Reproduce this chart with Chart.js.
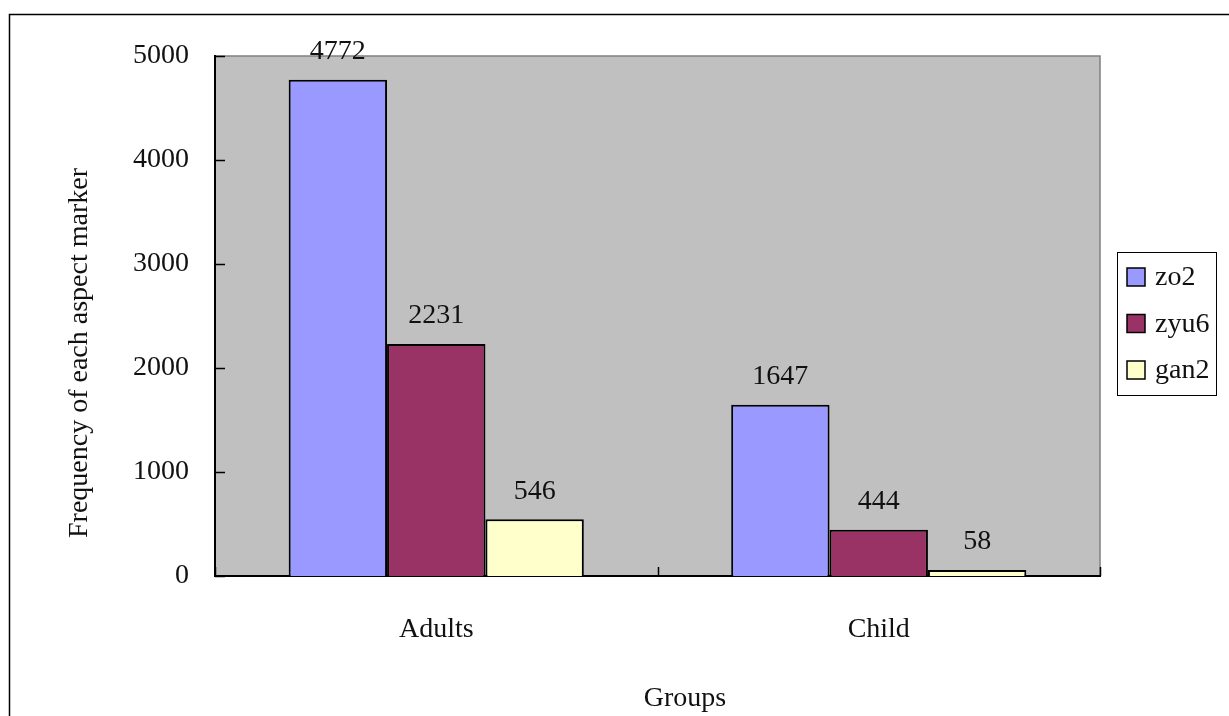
<!DOCTYPE html>
<html>
<head>
<meta charset="utf-8">
<script src="https://cdn.jsdelivr.net/npm/chart.js@4/dist/chart.umd.min.js"></script>
<style>
  html, body { margin: 0; padding: 0; background: #fff; }
  canvas { display: block; }
</style>
</head>
<body>
<canvas id="myChart" width="1229" height="716"></canvas>
<script>
const groups = ['Adults', 'Child'];
const seriesNames = ['zo2', 'zyu6', 'gan2'];
const zo2 = [4772, 1647];
const zyu6 = [2231, 444];
const gan2 = [546, 58];
const yTicks = [0, 1000, 2000, 3000, 4000, 5000];
const colors = ['#9999FF', '#993366', '#FFFFCC'];

const FONT = '"Liberation Serif", "Times New Roman", serif';

window.onload = () => {
    const ctx = document.getElementById('myChart').getContext('2d');

    // frame, plot background, inside ticks, value labels, axis titles, legend
    const decor = {
        id: 'decor',
        beforeDraw(chart) {
            const c = chart.ctx;
            const a = chart.chartArea;
            c.save();
            c.fillStyle = '#fff';
            c.fillRect(0, 0, chart.width, chart.height);
            c.strokeStyle = '#000';
            c.lineWidth = 1.5;
            c.strokeRect(9.5, 14.5, 1400, 1000);
            c.fillStyle = '#C0C0C0';
            c.fillRect(a.left, a.top, a.right - a.left, a.bottom - a.top);
            c.strokeStyle = '#808080';
            c.lineWidth = 1.5;
            c.strokeRect(a.left, a.top, a.right - a.left, a.bottom - a.top);
            c.restore();
        },
        afterDatasetsDraw(chart) {
            const c = chart.ctx;
            const a = chart.chartArea;
            c.save();
            // inward tick marks
            c.strokeStyle = '#000';
            c.lineWidth = 1.5;
            const ys = chart.scales.y;
            yTicks.forEach(v => {
                const py = Math.round(ys.getPixelForValue(v)) + 0.5;
                c.beginPath();
                c.moveTo(a.left, py);
                c.lineTo(a.left + 10, py);
                c.stroke();
            });
            const xs = chart.scales.x;
            for (let i = 0; i <= groups.length; i++) {
                const px = Math.round(xs.getPixelForValue(i - 0.5)) + 0.5;
                c.beginPath();
                c.moveTo(px, a.bottom);
                c.lineTo(px, a.bottom - 9);
                c.stroke();
            }

            c.font = '28px ' + FONT;
            c.fillStyle = '#111';
            c.textAlign = 'center';
            c.textBaseline = 'bottom';
            chart.data.datasets.forEach((ds, i) => {
                chart.getDatasetMeta(i).data.forEach((bar, j) => {
                    c.fillText(ds.data[j], bar.x, bar.y - 14);
                });
            });
            c.restore();
        },
        afterDraw(chart) {
            const c = chart.ctx;
            c.save();
            c.font = '28px ' + FONT;
            c.fillStyle = '#111';
            c.textAlign = 'center';
            c.textBaseline = 'middle';
            // y title
            c.translate(80, 353);
            c.rotate(-Math.PI / 2);
            c.fillText('Frequency of each aspect marker', 0, 0);
            c.restore();

            c.save();
            c.font = '28px ' + FONT;
            c.fillStyle = '#111';
            c.textAlign = 'center';
            c.textBaseline = 'middle';
            c.fillText('Groups', 685, 699);

            // legend
            c.strokeStyle = '#000';
            c.lineWidth = 1;
            c.strokeRect(1117.5, 252.5, 99, 143);
            c.textAlign = 'left';
            chart.data.datasets.forEach((ds, i) => {
                const y = 277 + i * 46.5;
                c.fillStyle = ds.backgroundColor;
                c.fillRect(1127, y - 9, 18, 18);
                c.strokeStyle = '#000';
                c.lineWidth = 1.5;
                c.strokeRect(1127, y - 9, 18, 18);
                c.fillStyle = '#111';
                c.fillText(ds.label, 1155, y + 1);
            });
            c.restore();
        }
    };

    new Chart(ctx, {
        type: 'bar',
        data: {
            labels: groups,
            datasets: [zo2, zyu6, gan2].map((d, i) => ({
                label: seriesNames[i],
                data: d,
                backgroundColor: colors[i],
                borderColor: '#000',
                borderWidth: 2,
                categoryPercentage: 0.667,
                barPercentage: 1.0
            }))
        },
        options: {
            responsive: false,
            animation: false,
            layout: {
                padding: { top: 56, right: 129, left: 0, bottom: 0 }
            },
            plugins: {
                legend: { display: false },
                tooltip: { enabled: false }
            },
            scales: {
                x: {
                    afterFit: (s) => { s.height = 140; },
                    grid: { display: false, drawTicks: false },
                    border: { color: '#000', width: 2 },
                    ticks: {
                        padding: 37,
                        color: '#111',
                        font: { family: FONT, size: 28 }
                    }
                },
                y: {
                    min: 0,
                    max: 5000,
                    afterFit: (s) => { s.width = 215; },
                    afterBuildTicks: (s) => { s.ticks = yTicks.map(v => ({ value: v })); },
                    grid: { display: false, drawTicks: false },
                    border: { color: '#000', width: 2 },
                    ticks: {
                        padding: 26,
                        color: '#111',
                        font: { family: FONT, size: 28 },
                        callback: (v) => String(v)
                    }
                }
            }
        },
        plugins: [decor]
    });
};
</script>
</body>
</html>
